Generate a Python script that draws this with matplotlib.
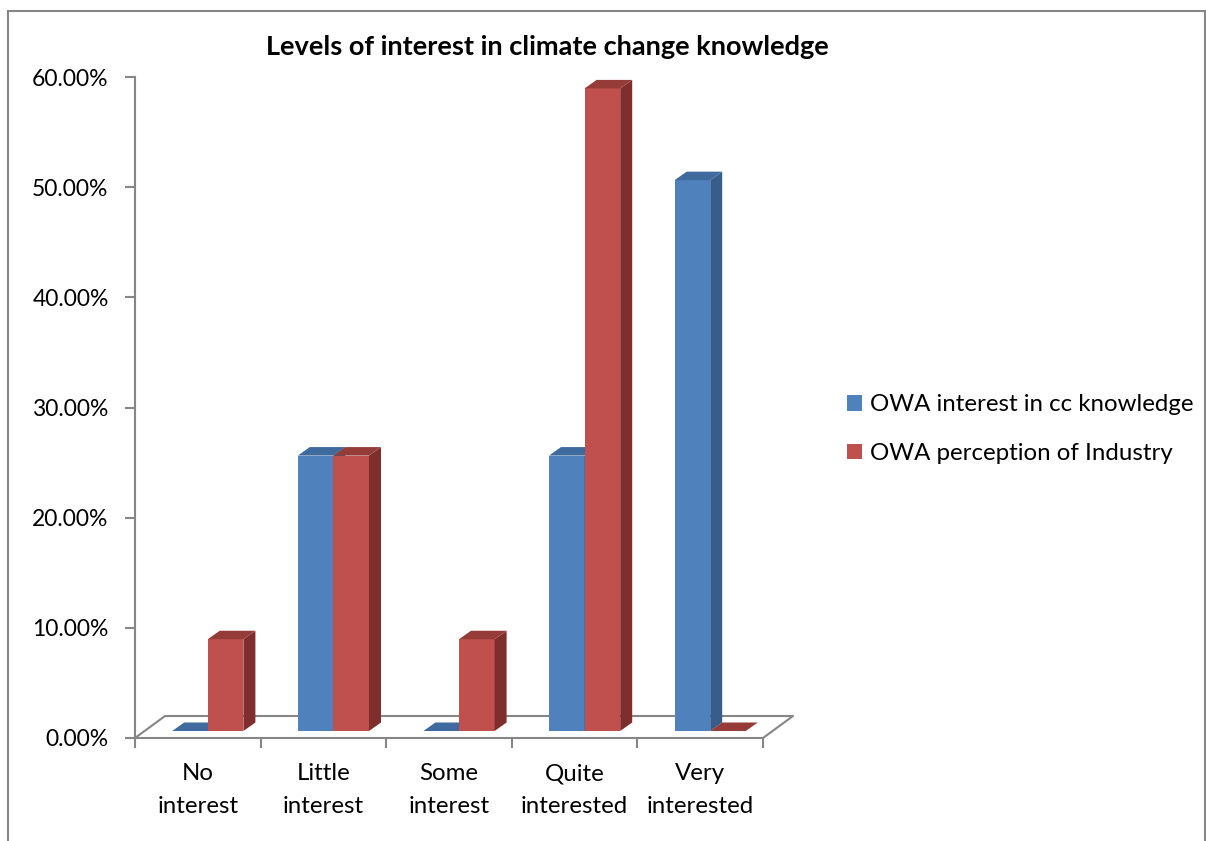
import matplotlib.pyplot as plt
from matplotlib.patches import Polygon, Rectangle, Patch
from matplotlib.lines import Line2D

categories = ["No\ninterest", "Little\ninterest", "Some\ninterest",
              "Quite\ninterested", "Very\ninterested"]
owa_interest = [0.0, 25.0, 0.0, 25.0, 50.0]
owa_industry = [8.33, 25.0, 8.33, 58.33, 0.0]
series_names = ["OWA interest in cc knowledge", "OWA perception of Industry"]
y_ticks = [0, 10, 20, 30, 40, 50, 60]

plt.rcParams['font.family'] = ['Lato', 'DejaVu Sans']

W, H = 1206, 841
fig = plt.figure(figsize=(W / 100, H / 100), dpi=100)
ax = fig.add_axes([135 / W, 1 - 738 / H, 628 / W, 661 / H])
ax.set_xlim(0, len(categories))
ax.set_ylim(0, 60)

# pixel -> data conversion for the fake 3d offsets
px_x = len(categories) / 628
px_y = 60 / 661
front_dx, front_dy = 10 * px_x, 7 * px_y
depth_dx, depth_dy = 12 * px_x, 8.5 * px_y
floor_dx, floor_dy = 30 * px_x, 22 * px_y
bar_w = 35.6 * px_x

grey = '#868686'
colors = {
    0: ('#4F81BD', '#385D8A', '#3E6A9E'),
    1: ('#C0504D', '#7E2F2D', '#953C39'),
}

# floor
fx = [0, floor_dx, len(categories) + floor_dx, len(categories)]
fy = [0, floor_dy, floor_dy, 0]
ax.add_line(Line2D(fx, fy, color=grey, lw=1.5, clip_on=False, zorder=1))


def draw_bar(x0, val, cols):
    front, side, top = cols
    b = front_dy
    t = front_dy + val
    if val > 0:
        ax.bar(x0, val, bar_w, bottom=b, align='edge', color=front,
               edgecolor='none', clip_on=False, zorder=2)
        ax.add_patch(Polygon([(x0 + bar_w, b), (x0 + bar_w + depth_dx, b + depth_dy),
                              (x0 + bar_w + depth_dx, t + depth_dy), (x0 + bar_w, t)],
                             closed=True, facecolor=side, edgecolor='none',
                             clip_on=False, zorder=2))
    ax.add_patch(Polygon([(x0, t), (x0 + depth_dx, t + depth_dy),
                          (x0 + bar_w + depth_dx, t + depth_dy), (x0 + bar_w, t)],
                         closed=True, facecolor=top, edgecolor='none',
                         clip_on=False, zorder=2))


for i in range(len(categories)):
    center = i + 0.5 + front_dx
    draw_bar(center - bar_w, owa_interest[i], colors[0])
    draw_bar(center, owa_industry[i], colors[1])

# axes styling
for s in ['top', 'right']:
    ax.spines[s].set_visible(False)
for s in ['left', 'bottom']:
    ax.spines[s].set_color(grey)
    ax.spines[s].set_linewidth(1.5)

ax.set_yticks(y_ticks)
ax.set_yticklabels([f"{v:.2f}%" for v in y_ticks])
ax.tick_params(axis='y', length=7, width=1.5, color=grey, pad=12, labelsize=16.5)

ax.set_xticks(range(len(categories) + 1))
ax.set_xticklabels([])
ax.set_xticks([i + 0.5 for i in range(len(categories))], minor=True)
ax.set_xticklabels(categories, minor=True, fontsize=17.3, linespacing=1.7)
ax.tick_params(axis='x', which='major', length=7, width=1.5, color=grey, direction='out')
ax.tick_params(axis='x', which='minor', length=0, pad=18)

fig.text(547 / W, 1 - 47 / H, "Levels of interest in climate change knowledge",
         ha='center', va='center', fontsize=19.5, fontweight='bold')

handles = [Patch(facecolor=colors[0][0]), Patch(facecolor=colors[1][0])]
fig.legend(handles, series_names, loc='center left',
           bbox_to_anchor=(825 / W, 1 - 429 / H), frameon=False, fontsize=17.3,
           handlelength=0.62, handleheight=0.62, handletextpad=0.35,
           labelspacing=1.15)

# outer chart frame
fig.add_artist(Rectangle((8 / W, -0.05), 1197 / W, 1.05 - 11 / H,
                         transform=fig.transFigure, fill=False,
                         edgecolor=grey, lw=1.5))

fig.savefig('out.png', dpi=100)
